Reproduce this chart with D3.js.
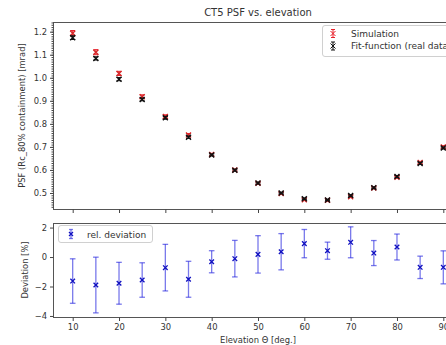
<!DOCTYPE html>
<html>
<head>
<meta charset="utf-8">
<script src="https://cdn.jsdelivr.net/npm/d3@7"></script>
<style>
  body { margin: 0; background: #fff; }
  svg { display: block; overflow: hidden; }
  text { font-family: "DejaVu Sans", sans-serif; fill: #333; }
</style>
</head>
<body>
<div id="chart"></div>
<script>
// data
var elevation = [10, 15, 20, 25, 30, 35, 40, 45, 50, 55, 60, 65, 70, 75, 80, 85, 90];
var simPsf = [1.193, 1.111, 1.019, 0.918, 0.832, 0.752, 0.667, 0.600, 0.542, 0.498, 0.471, 0.468, 0.484, 0.522, 0.568, 0.632, 0.700];
var simErr = [0.012, 0.011, 0.009, 0.008, 0.007, 0.006, 0.005, 0.004, 0.004, 0.004, 0.004, 0.004, 0.004, 0.004, 0.004, 0.005, 0.005];
var fitPsf = [1.174, 1.084, 0.994, 0.906, 0.826, 0.742, 0.665, 0.599, 0.543, 0.500, 0.475, 0.470, 0.489, 0.523, 0.572, 0.628, 0.695];
var fitErr = [0.008, 0.007, 0.007, 0.006, 0.006, 0.005, 0.004, 0.004, 0.004, 0.003, 0.003, 0.003, 0.003, 0.003, 0.004, 0.004, 0.004];
var deviation = [-1.63, -1.90, -1.78, -1.56, -0.72, -1.51, -0.32, -0.11, 0.18, 0.36, 0.91, 0.43, 1.00, 0.27, 0.68, -0.70, -0.70];
var devErr = [1.51, 1.89, 1.42, 1.17, 1.58, 1.22, 0.75, 1.24, 1.27, 1.23, 0.96, 0.58, 1.05, 0.85, 0.88, 0.76, 1.12];
var xTicks = [10, 20, 30, 40, 50, 60, 70, 80, 90];
var topTicks = [0.5, 0.6, 0.7, 0.8, 0.9, 1.0, 1.1, 1.2];
var botTicks = [-4, -2, 0, 2];

var width = 446, height = 345;
var axLeft = 53, axRight = 463;
var top1 = 22, bot1 = 209, top2 = 223, bot2 = 317;

var svg = d3.select('#chart')
  .append('svg')
  .attr('width', width)
  .attr('height', height);

svg.append('rect').attr('width', width).attr('height', height).attr('fill', '#fff');

var x = d3.scaleLinear().domain([5.75, 94.25]).range([axLeft, axRight]);
var y1 = d3.scaleLinear().domain([0.4305, 1.242]).range([bot1, top1]);
var y2 = d3.scaleLinear().domain([-4.07, 2.31]).range([bot2, top2]);

// frames
function frame(t, b) {
  svg.append('rect')
    .attr('x', axLeft + 0.5).attr('y', t + 0.5)
    .attr('width', axRight - axLeft).attr('height', b - t)
    .attr('fill', 'none').attr('stroke', '#555').attr('stroke-width', 1);
}
frame(top1, bot1);
frame(top2, bot2);

function styleAxis(g) {
  g.selectAll('.domain').remove();
  g.selectAll('line').attr('stroke', '#444');
  g.selectAll('text').attr('font-size', 8.4).attr('fill', '#333')
    .attr('font-family', '"DejaVu Sans", sans-serif');
}

// top panel axes
svg.append('g').attr('transform', 'translate(0,' + (bot1 + 0.5) + ')')
  .call(d3.axisBottom(x).tickValues(xTicks).tickSize(3.5).tickFormat(''))
  .call(styleAxis);
svg.append('g').attr('transform', 'translate(' + (axLeft + 0.5) + ',0)')
  .call(d3.axisLeft(y1).tickValues(d3.range(44, 125).map(d => d / 100)).tickSize(2).tickFormat(''))
  .call(styleAxis);
svg.append('g').attr('transform', 'translate(' + (axLeft + 0.5) + ',0)')
  .call(d3.axisLeft(y1).tickValues(topTicks).tickSize(3.5).tickPadding(3).tickFormat(d3.format('.1f')))
  .call(styleAxis);

// bottom panel axes
svg.append('g').attr('transform', 'translate(0,' + (bot2 + 0.5) + ')')
  .call(d3.axisBottom(x).tickValues(xTicks).tickSize(3.5).tickPadding(3))
  .call(styleAxis);
svg.append('g').attr('transform', 'translate(' + (axLeft + 0.5) + ',0)')
  .call(d3.axisLeft(y2).tickValues(botTicks).tickSize(3.5).tickPadding(3).tickFormat(d => d < 0 ? '\u2212' + Math.abs(d) : d))
  .call(styleAxis);

// errorbar helper
function errorbars(g, xs, ys, es, yScale, color, opacity, cap, width) {
  var grp = g.append('g').attr('stroke', color).attr('stroke-opacity', opacity).attr('stroke-width', width);
  xs.forEach(function(d, i) {
    var cx = x(d), yt = yScale(ys[i] + es[i]), yb = yScale(ys[i] - es[i]);
    grp.append('line').attr('x1', cx).attr('x2', cx).attr('y1', yt).attr('y2', yb);
    grp.append('line').attr('x1', cx - cap).attr('x2', cx + cap).attr('y1', yt).attr('y2', yt);
    grp.append('line').attr('x1', cx - cap).attr('x2', cx + cap).attr('y1', yb).attr('y2', yb);
  });
}
function crosses(g, xs, ys, yScale, color, r, width) {
  var grp = g.append('g').attr('stroke', color).attr('stroke-width', width);
  xs.forEach(function(d, i) {
    var cx = x(d), cy = yScale(ys[i]);
    grp.append('path').attr('d', 'M' + (cx - r) + ',' + (cy - r) + 'L' + (cx + r) + ',' + (cy + r) +
      'M' + (cx - r) + ',' + (cy + r) + 'L' + (cx + r) + ',' + (cy - r));
  });
}

var plot = svg.append('g');
errorbars(plot, elevation, simPsf, simErr, y1, '#e8202a', 1, 2.5, 1);
crosses(plot, elevation, simPsf, y1, '#d62728', 2.5, 1.4);
errorbars(plot, elevation, fitPsf, fitErr, y1, '#111', 1, 2.5, 1);
crosses(plot, elevation, fitPsf, y1, '#111', 2.5, 1.4);

errorbars(plot, elevation, deviation, devErr, y2, '#2020dd', 0.6, 2.8, 1.3);
crosses(plot, elevation, deviation, y2, '#1010c0', 2.3, 1.3);

// legends
var leg1 = svg.append('g');
leg1.append('rect').attr('x', 322.5).attr('y', 25.5).attr('width', 150).attr('height', 31)
  .attr('rx', 2.5).attr('fill', '#fff').attr('fill-opacity', 0.8).attr('stroke', '#d0d0d0');
var legItems = [
  { label: 'Simulation', color: '#e8202a', ly: 33.5 },
  { label: 'Fit-function (real data)', color: '#111', ly: 46 }
];
legItems.forEach(function(d) {
  var g = leg1.append('g').attr('stroke', d.color).attr('stroke-width', 1);
  g.append('line').attr('x1', 333).attr('x2', 333).attr('y1', d.ly - 4).attr('y2', d.ly + 4);
  g.append('line').attr('x1', 331).attr('x2', 335).attr('y1', d.ly - 4).attr('y2', d.ly - 4);
  g.append('line').attr('x1', 331).attr('x2', 335).attr('y1', d.ly + 4).attr('y2', d.ly + 4);
  g.append('path').attr('d', 'M330.5,' + (d.ly - 2.5) + 'L335.5,' + (d.ly + 2.5) + 'M330.5,' + (d.ly + 2.5) + 'L335.5,' + (d.ly - 2.5));
  leg1.append('text').attr('x', 351).attr('y', d.ly + 3).attr('font-size', 9).text(d.label);
});

var leg2 = svg.append('g');
leg2.append('rect').attr('x', 58.5).attr('y', 225.5).attr('width', 94).attr('height', 17)
  .attr('rx', 2.5).attr('fill', '#fff').attr('fill-opacity', 0.8).attr('stroke', '#d0d0d0');
var lg = leg2.append('g').attr('stroke', '#2020dd').attr('stroke-opacity', 0.6).attr('stroke-width', 1.3);
lg.append('line').attr('x1', 71).attr('x2', 71).attr('y1', 229.5).attr('y2', 238.5);
lg.append('line').attr('x1', 69).attr('x2', 73).attr('y1', 229.5).attr('y2', 229.5);
lg.append('line').attr('x1', 69).attr('x2', 73).attr('y1', 238.5).attr('y2', 238.5);
leg2.append('path').attr('d', 'M69,232L73,236M69,236L73,232').attr('stroke', '#1010c0').attr('stroke-width', 1.3);
leg2.append('text').attr('x', 87).attr('y', 237.5).attr('font-size', 9).text('rel. deviation');

// titles
svg.append('text').attr('x', (axLeft + axRight) / 2).attr('y', 16).attr('text-anchor', 'middle')
  .attr('font-size', 10).text('CT5 PSF vs. elevation');
svg.append('text').attr('x', (axLeft + axRight) / 2).attr('y', 343).attr('text-anchor', 'middle')
  .attr('font-size', 8.4).text('Elevation \u0398 [deg.]');
svg.append('text').attr('transform', 'translate(25,' + (top1 + bot1) / 2 + ') rotate(-90)')
  .attr('text-anchor', 'middle').attr('font-size', 8.4).text('PSF (Rc_80% containment) [mrad]');
svg.append('text').attr('transform', 'translate(28,' + (top2 + bot2) / 2 + ') rotate(-90)')
  .attr('text-anchor', 'middle').attr('font-size', 8.4).text('Deviation [%]');
</script>
</body>
</html>
